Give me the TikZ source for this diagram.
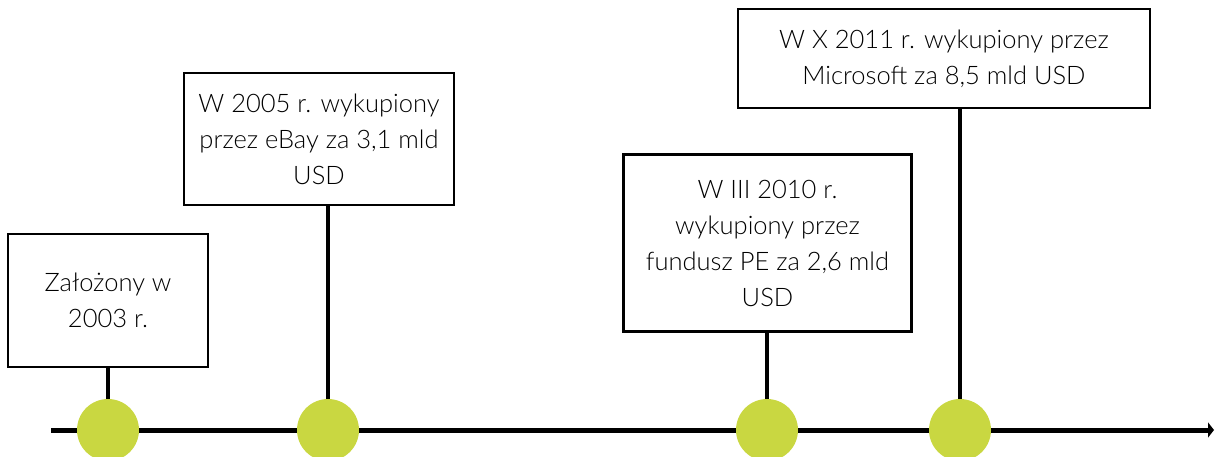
\documentclass[tikz,border=0pt]{standalone}
\usepackage{fontspec}
\setmainfont{Lato}[UprightFont={* Light}]
\usetikzlibrary{arrows.meta, positioning}
\definecolor{dotgreen}{RGB}{201,215,65}

\begin{document}
\begin{tikzpicture}[x=1pt, y=-1pt,
    eventbox/.style={draw, line width=2.6pt, align=center, inner sep=0pt,
        font=\fontsize{25.5}{36}\selectfont},
    stem/.style={line width=4.5pt},
    dot/.style={circle, fill=dotgreen, minimum size=62pt, inner sep=0pt}]
    \useasboundingbox (0, 0) rectangle (1215, 457);
    % time axis
    \coordinate (axisstart) at (51, 430);
    \coordinate (axisend) at (1214, 430);
    \draw[line width=5pt, -{Triangle[length=6pt, width=15pt]}] (axisstart) -- (axisend);
    % event boxes
    \node[eventbox, minimum width=200pt, minimum height=133pt] (founded) at (108, 300.5)
        {Założony w\\2003 r.};
    \node[eventbox, minimum width=270pt, minimum height=132pt] (ebay) at (319, 139)
        {W 2005 r. wykupiony\\przez eBay za 3,1 mld\\USD};
    \node[eventbox, minimum width=288pt, minimum height=177pt] (fund) at (767.5, 243)
        {W III 2010 r.\\wykupiony przez\\fundusz PE za 2,6 mld\\USD};
    \node[eventbox, minimum width=412pt, minimum height=99pt] (msft) at (944, 58.5)
        {W X 2011 r. wykupiony przez\\Microsoft za 8,5 mld USD};
    % dots on the axis
    \node[dot] (d2003) at (108, 430) {};
    \node[dot] (d2005) at (328, 430) {};
    \node[dot] (d2010) at (767, 430) {};
    \node[dot] (d2011) at (960, 430) {};
    % stems
    \draw[stem] (d2003.north) -- (d2003 |- founded.south);
    \draw[stem] (d2005.north) -- (d2005 |- ebay.south);
    \draw[stem] (d2010.north) -- (d2010 |- fund.south);
    \draw[stem] (d2011.north) -- (d2011 |- msft.south);
\end{tikzpicture}
\end{document}
